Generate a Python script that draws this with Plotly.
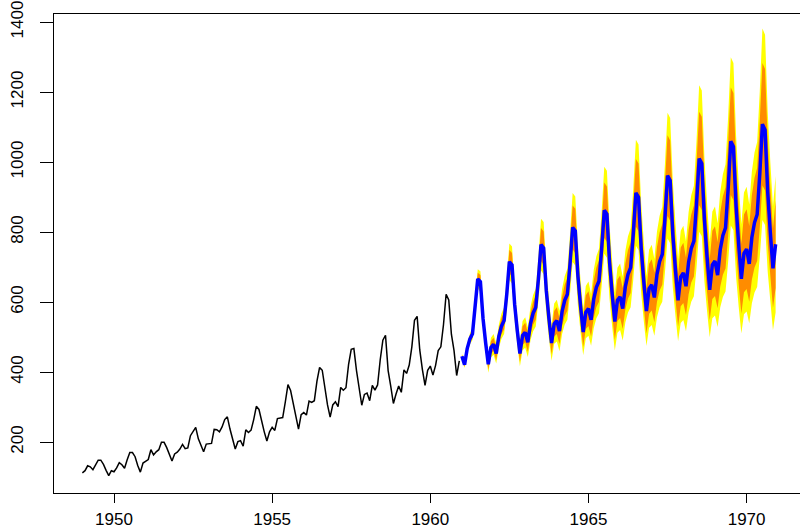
import plotly.graph_objects as go

# Observed monthly series (Jan 1949 - Dec 1960)
obs_start = 1949
observed = [
    112, 118, 132, 129, 121, 135, 148, 148, 136, 119, 104, 118,
    115, 126, 141, 135, 125, 149, 170, 170, 158, 133, 114, 140,
    145, 150, 178, 163, 172, 178, 199, 199, 184, 162, 146, 166,
    171, 180, 193, 181, 183, 218, 230, 242, 209, 191, 172, 194,
    196, 196, 236, 235, 229, 243, 264, 272, 237, 211, 180, 201,
    204, 188, 235, 227, 234, 264, 302, 293, 259, 229, 203, 229,
    242, 233, 267, 269, 270, 315, 364, 347, 312, 274, 237, 278,
    284, 277, 317, 313, 318, 374, 413, 405, 355, 306, 271, 306,
    315, 301, 356, 348, 355, 422, 465, 467, 404, 347, 305, 336,
    340, 318, 362, 348, 363, 435, 491, 505, 404, 359, 310, 337,
    360, 342, 406, 396, 420, 472, 548, 559, 463, 407, 362, 405,
    417, 391, 419, 461, 472, 535, 622, 606, 508, 461, 390, 432,
]

# Point forecast (Jan 1961 - Dec 1970)
fc_start = 1961
forecast = [
    445, 421, 467, 494, 509, 579, 666, 658, 553, 483, 422, 470,
    479, 453, 502, 531, 547, 622, 715, 706, 593, 518, 453, 504,
    513, 485, 538, 568, 584, 665, 764, 754, 633, 553, 483, 538,
    547, 517, 573, 605, 622, 708, 813, 803, 674, 588, 514, 571,
    581, 549, 608, 642, 660, 751, 862, 851, 714, 623, 544, 605,
    615, 581, 644, 679, 698, 794, 912, 899, 754, 658, 574, 638,
    649, 613, 679, 716, 736, 837, 961, 947, 794, 693, 605, 672,
    683, 645, 714, 753, 774, 880, 1010, 996, 835, 728, 635, 706,
    717, 677, 750, 790, 812, 923, 1059, 1044, 875, 763, 666, 739,
    751, 709, 785, 827, 850, 966, 1108, 1092, 915, 798, 696, 765,
]

# Relative half-width of the 95% interval (percent of the forecast)
pct95 = [
    1.6, 2.2, 2.7, 3.1, 3.5, 3.8, 4.1, 4.5, 4.9, 5.3, 5.7, 6.0,
    6.2, 6.4, 6.6, 6.8, 7.0, 7.2, 7.3, 7.5, 7.7, 7.9, 8.1, 8.3,
    8.5, 8.7, 8.9, 9.1, 9.3, 9.5, 9.7, 9.9, 10.1, 10.3, 10.5, 10.7,
    10.9, 11.1, 11.3, 11.5, 11.7, 11.9, 12.1, 12.3, 12.5, 12.7, 12.9, 13.1,
    13.3, 13.5, 13.7, 13.8, 14.0, 14.2, 14.4, 14.6, 14.8, 15.0, 15.2, 15.3,
    15.5, 15.7, 15.9, 16.0, 16.2, 16.4, 16.6, 16.8, 17.0, 17.2, 17.4, 17.5,
    17.7, 17.9, 18.0, 18.2, 18.4, 18.5, 18.7, 18.9, 19.1, 19.2, 19.4, 19.6,
    19.7, 19.9, 20.1, 20.2, 20.4, 20.6, 20.7, 20.9, 21.1, 21.2, 21.4, 21.6,
    21.7, 21.9, 22.0, 22.2, 22.4, 22.5, 22.7, 22.9, 23.0, 23.2, 23.4, 23.5,
    23.7, 23.9, 24.0, 24.2, 24.4, 24.5, 24.7, 24.9, 25.0, 25.2, 25.4, 25.5,
]

# Relative half-width of the 80% interval (percent of the forecast)
pct80 = [
    1.0, 1.4, 1.7, 2.0, 2.2, 2.4, 2.6, 2.9, 3.1, 3.4, 3.6, 3.8,
    4.0, 4.1, 4.2, 4.4, 4.5, 4.6, 4.7, 4.8, 4.9, 5.1, 5.2, 5.3,
    5.4, 5.6, 5.7, 5.8, 6.0, 6.1, 6.2, 6.3, 6.5, 6.6, 6.7, 6.8,
    7.0, 7.1, 7.2, 7.4, 7.5, 7.6, 7.7, 7.9, 8.0, 8.1, 8.3, 8.4,
    8.5, 8.6, 8.8, 8.8, 9.0, 9.1, 9.2, 9.3, 9.5, 9.6, 9.7, 9.8,
    9.9, 10.0, 10.2, 10.2, 10.4, 10.5, 10.6, 10.8, 10.9, 11.0, 11.1, 11.2,
    11.3, 11.5, 11.5, 11.6, 11.8, 11.8, 12.0, 12.1, 12.2, 12.3, 12.4, 12.5,
    12.6, 12.7, 12.9, 12.9, 13.1, 13.2, 13.2, 13.4, 13.5, 13.6, 13.7, 13.8,
    13.9, 14.0, 14.1, 14.2, 14.3, 14.4, 14.5, 14.7, 14.7, 14.8, 15.0, 15.0,
    15.2, 15.3, 15.4, 15.5, 15.6, 15.7, 15.8, 15.9, 16.0, 16.1, 16.3, 16.3,
]

x_ticks = [1950, 1955, 1960, 1965, 1970]
y_ticks = [200, 400, 600, 800, 1000, 1200, 1400]

t_obs = [obs_start + i / 12 for i in range(len(observed))]
t_fc = [fc_start + i / 12 for i in range(len(forecast))]
lo95 = [f * (1 - p / 100) for f, p in zip(forecast, pct95)]
hi95 = [f * (1 + p / 100) for f, p in zip(forecast, pct95)]
lo80 = [f * (1 - p / 100) for f, p in zip(forecast, pct80)]
hi80 = [f * (1 + p / 100) for f, p in zip(forecast, pct80)]

fig = go.Figure()
fig.add_trace(go.Scatter(x=t_fc + t_fc[::-1], y=hi95 + lo95[::-1], fill="toself",
                         fillcolor="#FFFF00", line=dict(width=0), mode="lines",
                         hoverinfo="skip", showlegend=False))
fig.add_trace(go.Scatter(x=t_fc + t_fc[::-1], y=hi80 + lo80[::-1], fill="toself",
                         fillcolor="#FF8C00", line=dict(width=0), mode="lines",
                         hoverinfo="skip", showlegend=False))
fig.add_trace(go.Scatter(x=t_obs, y=observed, mode="lines",
                         line=dict(color="black", width=1.5), showlegend=False))
fig.add_trace(go.Scatter(x=t_fc, y=forecast, mode="lines",
                         line=dict(color="#0000FF", width=3.5), showlegend=False))

font = dict(family="Liberation Sans, Arial, sans-serif", color="black")
fig.update_layout(
    width=800, height=530,
    margin=dict(l=54, r=0, t=14, b=37),
    paper_bgcolor="white", plot_bgcolor="white",
    font=font,
    xaxis=dict(range=[1948.103, 1971.688], tickvals=x_ticks, ticktext=[str(v) for v in x_ticks],
               showgrid=False, zeroline=False, showline=True, linecolor="black", linewidth=1.3,
               mirror=True, ticks="outside", ticklen=9, tickwidth=1.3, tickcolor="black",
               tickfont=dict(size=17, **font), ticklabelstandoff=1, automargin=False),
    yaxis=dict(range=[54.3, 1422.9], tickvals=y_ticks, ticktext=[str(v) for v in y_ticks],
               showgrid=False, zeroline=False, showline=True, linecolor="black", linewidth=1.3,
               ticks="outside", ticklen=13, tickwidth=1.3, tickcolor="black", tickangle=-90,
               tickfont=dict(size=17, **font), ticklabelstandoff=10, automargin=False),
)

fig.write_html("out.html", config={"displayModeBar": False},
               post_script="document.body.style.margin='0';document.body.style.overflow='hidden';")
